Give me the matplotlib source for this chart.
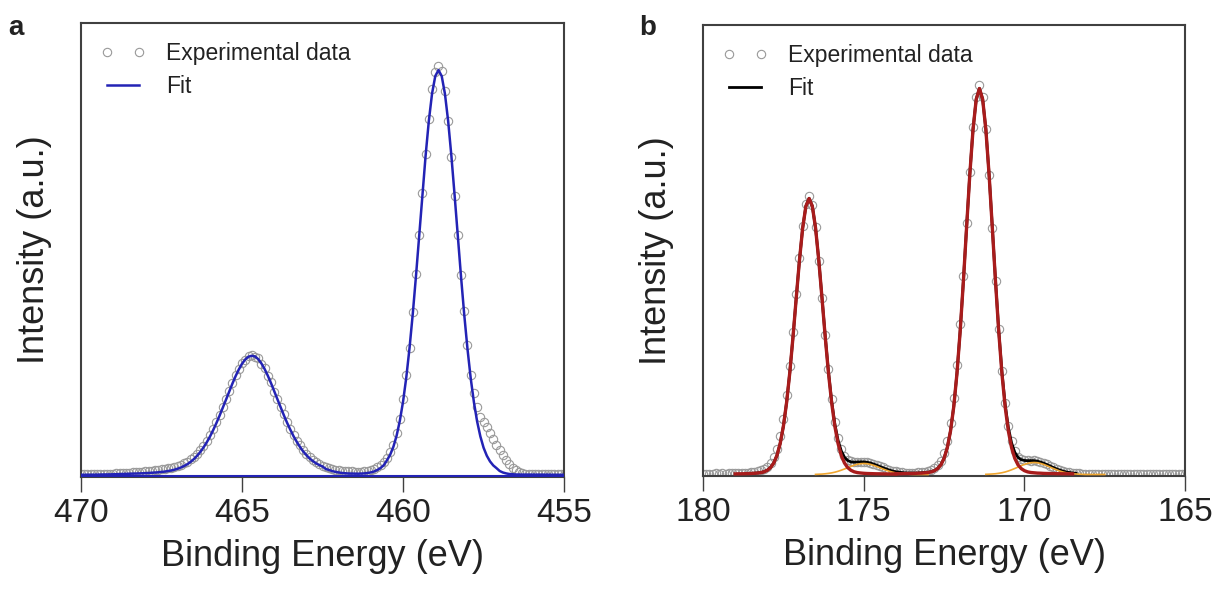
import numpy as np
import matplotlib.pyplot as plt

plt.rcParams['font.family'] = ['Liberation Sans', 'DejaVu Sans']

# ---- panel a : Ti 2p region (470 -> 455 eV, 0.1 eV step) ----
energy_a = np.round(np.linspace(470.0, 455.0, 151), 1)

data_a = [2.8, 2.5, 3.0, 2.6, 2.9, 3.1, 2.7, 3.2, 3.0, 3.4,
          3.3, 3.7, 3.5, 3.9, 4.1, 4.0, 4.6, 4.8, 5.0, 5.2,
          5.6, 6.1, 6.2, 6.8, 7.0, 7.6, 7.9, 8.7, 9.1, 10.2,
          11.0, 12.3, 13.9, 15.4, 17.8, 20.1, 23.2, 26.8, 31.0, 35.9,
          41.6, 47.5, 54.9, 61.8, 70.3, 77.5, 86.4, 93.6, 101.8, 107.9,
          114.1, 117.2, 121.0, 121.8, 120.1, 118.5, 113.0, 108.6, 100.7, 94.5,
          85.4, 78.4, 69.9, 62.5, 54.9, 48.3, 41.9, 36.4, 31.5, 27.1,
          23.4, 20.0, 17.2, 14.8, 12.9, 11.3, 10.0, 8.9, 8.0, 7.3,
          6.8, 6.3, 6.0, 5.6, 5.5, 5.2, 5.4, 5.1, 5.6, 5.9,
          6.7, 8.1, 10.0, 12.2, 15.1, 19.4, 25.0, 32.2, 44.0, 58.0,
          78.0, 101.5, 129.0, 165.0, 203.0, 242.0, 284.0, 323.0, 358.0, 388.0,
          405.0, 411.0, 406.0, 386.0, 356.0, 320.0, 281.0, 242.0, 202.0, 166.0,
          132.0, 102.0, 84.0, 70.0, 60.0, 54.5, 49.5, 44.0, 37.5, 32.0,
          27.0, 22.0, 17.0, 12.5, 9.0, 6.5, 4.8, 3.9, 3.4, 3.1,
          3.0, 2.8, 3.0, 2.7, 2.9, 2.6, 2.8, 2.5, 2.7, 2.6, 2.4]

fit_a = [2.2, 2.2, 2.3, 2.3, 2.3, 2.4, 2.4, 2.5, 2.5, 2.6,
         2.7, 2.8, 2.9, 2.9, 3.0, 3.1, 3.2, 3.3, 3.5, 3.6,
         3.8, 4.0, 4.2, 4.4, 4.7, 5.0, 5.4, 5.9, 6.5, 7.3,
         8.3, 9.5, 11.0, 12.8, 15.1, 17.8, 21.1, 24.9, 29.4, 34.5,
         40.2, 46.7, 53.7, 61.2, 69.1, 77.2, 85.4, 93.4, 100.9, 107.6,
         113.3, 117.6, 120.3, 121.2, 120.6, 117.9, 113.6, 108.0, 101.3, 93.8,
         85.8, 77.6, 69.5, 61.6, 54.1, 47.2, 40.7, 35.1, 30.0, 25.5,
         21.8, 18.5, 15.9, 13.6, 11.9, 10.5, 8.0, 6.9, 5.9, 5.1,
         4.5, 4.0, 3.7, 3.5, 3.4, 3.3, 3.3, 3.4, 3.6, 4.0,
         4.6, 5.5, 7.0, 9.0, 11.8, 16.7, 22.3, 30.3, 41.4, 56.3,
         75.5, 99.6, 128.8, 162.7, 200.6, 241.2, 282.2, 321.4, 356.1, 383.4,
         400.9, 406.9, 400.9, 383.2, 355.9, 321.2, 281.9, 240.8, 200.2, 162.2,
         128.2, 98.9, 74.8, 55.5, 40.6, 29.3, 21.3, 15.6, 11.6, 8.9,
         6.0, 4.5, 3.6, 3.0, 2.7, 2.5, 2.4, 2.4, 2.4, 2.4,
         2.3, 2.3, 2.3, 2.3, 2.3, 2.3, 2.2, 2.2, 2.2, 2.2, 2.2]

background_a = 1.2

# ---- panel b : 180 -> 165 eV, 0.1 eV step ----
energy_b = np.round(np.linspace(180.0, 165.0, 151), 1)

data_b = [2.3, 2.0, 2.4, 2.1, 2.5, 2.2, 2.6, 2.3, 2.7, 2.5,
          2.8, 2.6, 3.0, 3.1, 3.3, 3.6, 4.0, 4.6, 5.6, 7.0,
          9.4, 13.0, 18.6, 27.0, 39.5, 57.0, 80.5, 110.0, 144.0, 182.0,
          218.0, 250.0, 272.0, 280.0, 271.0, 249.0, 215.0, 178.0, 141.0, 106.5,
          77.0, 54.0, 37.5, 26.5, 19.8, 16.0, 14.6, 14.0, 14.3, 14.0,
          14.4, 13.6, 13.2, 12.1, 11.0, 9.8, 8.6, 7.4, 6.3, 5.4,
          4.6, 4.1, 3.7, 3.4, 3.2, 3.3, 3.2, 3.5, 3.8, 4.3,
          5.0, 6.0, 7.8, 10.6, 15.2, 23.0, 35.0, 53.0, 78.0, 111.0,
          152.0, 200.0, 253.0, 304.0, 349.0, 379.0, 391.0, 379.0, 347.0, 301.0,
          248.0, 195.0, 146.5, 105.0, 73.0, 50.0, 34.5, 24.6, 19.2, 16.8,
          15.8, 15.6, 15.2, 15.5, 14.6, 14.1, 12.6, 11.6, 10.0, 8.7,
          7.3, 6.1, 5.0, 4.2, 3.6, 3.1, 2.8, 2.6, 2.4, 2.3,
          2.2, 2.1, 2.2, 2.0, 2.1, 1.9, 2.1, 1.9, 2.0, 1.8,
          2.0, 1.8, 1.9, 1.8, 2.0, 1.7, 1.9, 1.8, 1.7, 1.9,
          1.8, 1.7, 1.9, 1.7, 1.8, 1.6, 1.8, 1.7, 1.6, 1.8, 1.7]

# total fit, 178.5 -> 168.4 eV
fit_b = [2.6, 2.8, 3.0, 3.5, 4.3,
         5.8, 8.5, 13.1, 20.7, 32.6, 49.9, 73.7, 103.9, 139.6, 178.3,
         216.0, 248.2, 269.9, 277.7, 269.9, 248.3, 216.2, 178.7, 140.3, 105.0,
         75.3, 52.2, 35.8, 25.2, 18.8, 15.5, 14.1, 13.8, 14.0, 14.1,
         14.1, 13.7, 13.0, 12.0, 10.8, 9.5, 8.2, 7.0, 5.9, 4.9,
         4.2, 3.8, 3.4, 3.1, 3.0, 3.0, 2.9, 3.1, 3.2, 3.5,
         3.8, 4.3, 5.5, 7.6, 11.3, 17.8, 28.5, 45.1, 69.3, 102.5,
         144.8, 194.7, 248.8, 301.6, 346.5, 376.9, 387.6, 376.9, 346.6, 301.8,
         249.2, 195.4, 145.9, 104.2, 71.7, 48.5, 33.1, 23.7, 18.6, 16.3,
         15.5, 15.3, 15.4, 15.3, 14.8, 13.9, 12.8, 11.4, 9.9, 8.5,
         7.1, 5.9, 4.8, 4.0, 3.5, 3.0, 2.7]

# main components (red), 179.0 -> 174.0 eV and 174.0 -> 168.5 eV
peak_b1 = [2.1, 2.2, 2.2, 2.3, 2.4, 2.5, 2.7, 3.0, 3.4, 4.2,
           5.7, 8.4, 13.0, 20.6, 32.5, 49.8, 73.6, 103.8, 139.5, 178.2,
           215.9, 248.1, 269.8, 277.5, 269.8, 248.1, 215.9, 178.2, 139.5, 103.8,
           73.6, 49.8, 32.5, 20.6, 13.0, 8.4, 5.7, 4.2, 3.4, 3.0,
           2.7, 2.5, 2.4, 2.3, 2.2, 2.2, 2.1, 2.1, 2.0, 2.0, 2.0]
peak_b2 = [2.2, 2.2, 2.3, 2.4, 2.5, 2.5, 2.6, 2.8, 2.9, 3.2,
           3.5, 4.1, 5.3, 7.4, 11.1, 17.6, 28.3, 44.9, 69.1, 102.3,
           144.6, 194.5, 248.6, 301.4, 346.3, 376.7, 387.5, 376.7, 346.3, 301.4,
           248.6, 194.5, 144.6, 102.3, 69.1, 44.9, 28.3, 17.6, 11.1, 7.4,
           5.3, 4.1, 3.5, 3.2, 2.9, 2.8, 2.6, 2.5, 2.5, 2.4,
           2.3, 2.3, 2.2, 2.2, 2.2, 2.1]

# minor components (orange), 176.5 -> 173.0 eV and 171.2 -> 167.5 eV
minor_b1 = [1.6, 1.75, 1.9, 2.2, 2.6, 3.1, 3.8, 4.7, 5.8, 7.0,
            8.3, 9.6, 10.75, 11.7, 12.3, 12.5, 12.3, 11.7, 10.75, 9.6,
            8.3, 7.0, 5.8, 4.7, 3.8, 3.1, 2.6, 2.2, 1.9, 1.75,
            1.6, 1.5, 1.5, 1.5, 1.5, 1.5]
minor_b2 = [1.66, 1.8, 2.0, 2.25, 2.7, 3.25, 4.0, 5.0, 6.2, 7.5,
            8.9, 10.3, 11.6, 12.6, 13.3, 13.5, 13.3, 12.6, 11.6, 10.3,
            8.9, 7.5, 6.2, 5.0, 4.0, 3.25, 2.7, 2.25, 2.0, 1.8,
            1.66, 1.5, 1.5, 1.5, 1.5, 1.5, 1.5, 1.5]

ticks_a = [470, 465, 460, 455]
ticks_b = [180, 175, 170, 165]

SPINE = '#404040'
TEXT = '#222222'
CIRCLE = '#999999'


def style_axes(ax, ticks, ymax):
    ax.set_xlim(ticks[0], ticks[-1])
    ax.set_ylim(0, ymax)
    ax.set_xticks(ticks)
    ax.set_yticks([])
    for s in ax.spines.values():
        s.set_color(SPINE)
        s.set_linewidth(1.5)
    ax.tick_params(axis='x', direction='out', length=11, width=1.0,
                   color=SPINE, labelsize=24, labelcolor=TEXT, pad=4)
    ax.set_xlabel('Binding Energy (eV)', fontsize=26, color=TEXT, labelpad=7)
    ax.set_ylabel('Intensity (a.u.)', fontsize=26, color=TEXT, labelpad=21)


fig = plt.figure(figsize=(12.17, 5.91), dpi=100)
ax_a = fig.add_axes([0.0666, 0.1929, 0.3969, 0.7682])
ax_b = fig.add_axes([0.5777, 0.1946, 0.3961, 0.7631])

# panel a
ax_a.plot(energy_a, data_a, 'o', mfc='none', mec=CIRCLE, mew=0.8, ms=6,
          label='Experimental data', zorder=2)
ax_a.plot([energy_a[0], energy_a[-1]], [background_a, background_a],
          color='#2323b5', lw=1.5, zorder=3)
ax_a.plot(energy_a, fit_a, color='#2323b5', lw=1.8, label='Fit', zorder=3)
style_axes(ax_a, ticks_a, 454)

# panel b
ax_b.plot(energy_b, data_b, 'o', mfc='none', mec=CIRCLE, mew=0.8, ms=6,
          label='Experimental data', zorder=2)
ax_b.plot(energy_b[15:117], fit_b, color='black', lw=2.0, label='Fit', zorder=3)
ax_b.plot(energy_b[35:71], minor_b1, color='#f0a630', lw=1.2, zorder=4)
ax_b.plot(energy_b[88:126], minor_b2, color='#f0a630', lw=1.2, zorder=4)
ax_b.plot(energy_b[10:61], peak_b1, color='#a81c1c', lw=2.4, zorder=5)
ax_b.plot(energy_b[60:116], peak_b2, color='#a81c1c', lw=2.4, zorder=5)
style_axes(ax_b, ticks_b, 451)

for ax in (ax_a, ax_b):
    leg = ax.legend(loc='upper left', bbox_to_anchor=(0.04, 0.958),
                    frameon=False, fontsize=16.5, numpoints=2,
                    handlelength=2.0, handletextpad=0.85, labelspacing=0.45,
                    borderaxespad=0, borderpad=0)
    for t in leg.get_texts():
        t.set_color(TEXT)

fig.text(0.007, 0.94, 'a', fontsize=20, fontweight='bold', color=TEXT)
fig.text(0.525, 0.94, 'b', fontsize=20, fontweight='bold', color=TEXT)

fig.savefig('out.png', dpi=100)
